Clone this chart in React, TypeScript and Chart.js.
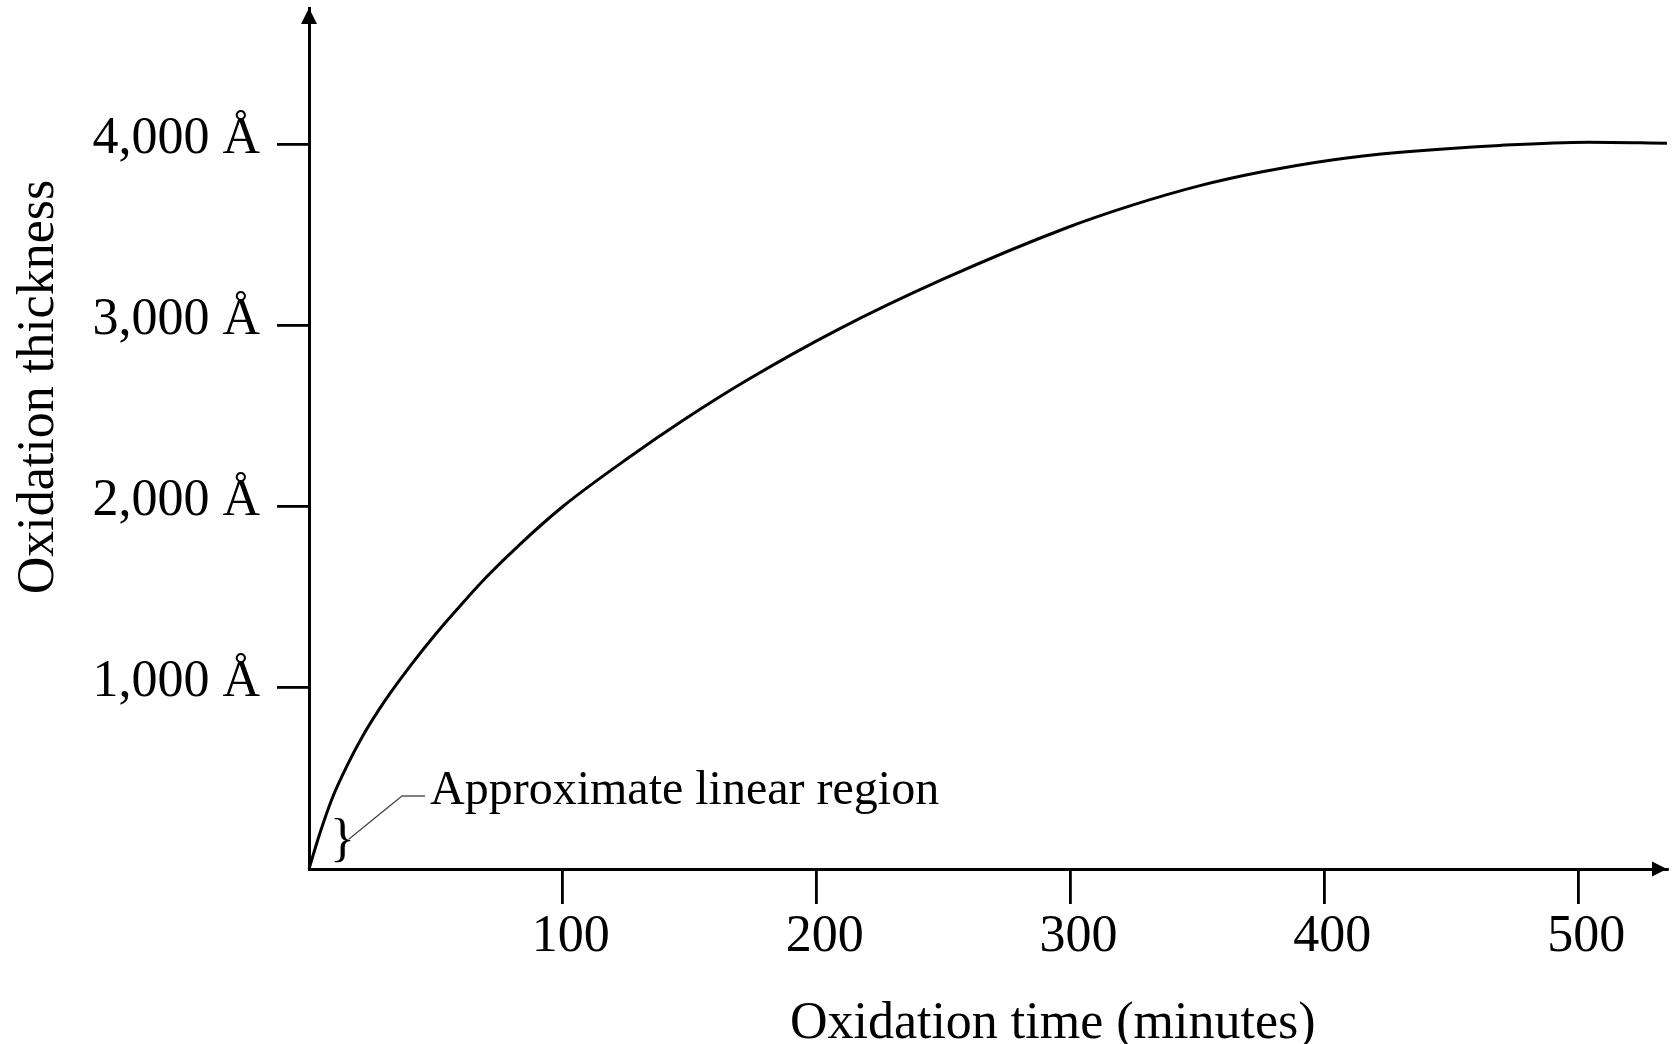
import React, { useEffect, useRef } from "react";
import { Chart, registerables } from "chart.js";

Chart.register(...registerables);

// Oxidation time (minutes)
const timeMin = [0, 4, 9, 15, 21, 30, 40, 50, 61, 70, 83, 100, 126, 148, 172, 208, 250, 298, 325, 351, 375, 403, 430, 469, 504, 535];
// Oxidation thickness (Å)
const thickness = [0, 185, 385, 570, 730, 930, 1122, 1298, 1475, 1612, 1790, 2000, 2270, 2481, 2692, 2973, 3255, 3535, 3665, 3770, 3845, 3912, 3954, 3992, 4010, 4004];

const xTickValues = [100, 200, 300, 400, 500];
const xTickLabels = ["100", "200", "300", "400", "500"];
const yTickValues = [1000, 2000, 3000, 4000];
const yTickLabels = ["1,000 Å", "2,000 Å", "3,000 Å", "4,000 Å"];

const xTitle = "Oxidation time (minutes)";
const yTitle = "Oxidation thickness";
const noteText = "Approximate linear region";

const FONT = "'Liberation Serif', 'Times New Roman', Times, serif";

const decorPlugin = {
  id: "decor",
  afterDraw(chart: any) {
    const { ctx, chartArea, scales } = chart;
    const xs = scales.x;
    const ys = scales.y;
    const ox = xs.getPixelForValue(0);
    const oy = ys.getPixelForValue(0);
    ctx.save();
    ctx.fillStyle = "#000";
    // y arrow
    const yt = chartArea.top;
    ctx.beginPath();
    ctx.moveTo(ox, yt);
    ctx.lineTo(ox - 8, yt + 16);
    ctx.lineTo(ox + 8, yt + 16);
    ctx.closePath();
    ctx.fill();
    // x arrow
    const xr = chartArea.right;
    ctx.beginPath();
    ctx.moveTo(xr, oy);
    ctx.lineTo(xr - 15, oy - 7.5);
    ctx.lineTo(xr - 15, oy + 7.5);
    ctx.closePath();
    ctx.fill();

    // titles
    ctx.font = `52px ${FONT}`;
    ctx.textAlign = "center";
    ctx.textBaseline = "alphabetic";
    ctx.fillText(xTitle, xs.getPixelForValue(293), chartArea.bottom + 169);
    ctx.save();
    ctx.translate(ox - 256.5, ys.getPixelForValue(2659));
    ctx.rotate(-Math.PI / 2);
    ctx.fillText(yTitle, 0, 0);
    ctx.restore();

    // annotation
    ctx.font = `48px ${FONT}`;
    ctx.textAlign = "left";
    ctx.fillText(noteText, ox + 121, oy - 65);
    ctx.font = `52px ${FONT}`;
    ctx.fillText("}", ox + 21, oy - 14);
    ctx.strokeStyle = "#444";
    ctx.lineWidth = 1.3;
    ctx.beginPath();
    ctx.moveTo(ox + 40, oy - 30);
    ctx.lineTo(ox + 93, oy - 73);
    ctx.stroke();
    ctx.strokeStyle = "#808080";
    ctx.lineWidth = 2;
    ctx.beginPath();
    ctx.moveTo(ox + 92, oy - 73);
    ctx.lineTo(ox + 116, oy - 73);
    ctx.stroke();
    ctx.restore();
  },
};

export default function App() {
  const ref = useRef<HTMLCanvasElement | null>(null);
  useEffect(() => {
    document.body.style.margin = "0";
    const canvas = ref.current;
    if (!canvas) return;
    const chart = new Chart(canvas, {
      type: "line",
      data: {
        datasets: [
          {
            data: timeMin.map((t, i) => ({ x: t, y: thickness[i] })),
            borderColor: "#000",
            borderWidth: 3,
            pointRadius: 0,
            fill: false,
            cubicInterpolationMode: "monotone",
            clip: false as any,
          },
        ],
      },
      options: {
        responsive: false,
        animation: false,
        devicePixelRatio: 1,
        layout: { padding: { left: 0, top: 8, right: 7, bottom: 0 } },
        plugins: { legend: { display: false }, tooltip: { enabled: false } },
        scales: {
          x: {
            type: "linear",
            min: 0,
            max: 535,
            afterBuildTicks: (s: any) => {
              s.ticks = xTickValues.map((v) => ({ value: v }));
            },
            afterFit: (s: any) => {
              s.height = 175;
              s.paddingLeft = 0;
              s.paddingRight = 0;
              s.paddingTop = 0;
              s.paddingBottom = 0;
            },
            grid: { drawOnChartArea: false, drawTicks: true, tickLength: 35, color: "#000", lineWidth: 2.8 },
            border: { display: true, color: "#000", width: 3 },
            ticks: {
              color: "#000",
              font: { family: FONT, size: 52, lineHeight: 1 },
              padding: 7,
              labelOffset: 8,
              maxRotation: 0,
              autoSkip: false,
              callback: (v: any) => xTickLabels[xTickValues.indexOf(Number(v))] ?? "",
            },
          },
          y: {
            type: "linear",
            min: 0,
            max: 4750,
            afterBuildTicks: (s: any) => {
              s.ticks = yTickValues.map((v) => ({ value: v }));
            },
            afterFit: (s: any) => {
              s.width = 309;
              s.paddingLeft = 0;
              s.paddingRight = 0;
              s.paddingTop = 0;
              s.paddingBottom = 0;
            },
            grid: { drawOnChartArea: false, drawTicks: true, tickLength: 32, color: "#000", lineWidth: 2.8 },
            border: { display: true, color: "#000", width: 3 },
            ticks: {
              color: "#000",
              font: { family: FONT, size: 52, lineHeight: 1 },
              padding: 17,
              labelOffset: -5,
              autoSkip: false,
              callback: (v: any) => yTickLabels[yTickValues.indexOf(Number(v))] ?? "",
            },
          },
        },
      },
      plugins: [decorPlugin],
    } as any);
    return () => chart.destroy();
  }, []);
  return (
    <div style={{ position: "fixed", left: 0, top: 0, width: 1674, height: 1044, background: "#fff" }}>
      <canvas ref={ref} width={1674} height={1044} style={{ width: 1674, height: 1044, display: "block" }} />
    </div>
  );
}
